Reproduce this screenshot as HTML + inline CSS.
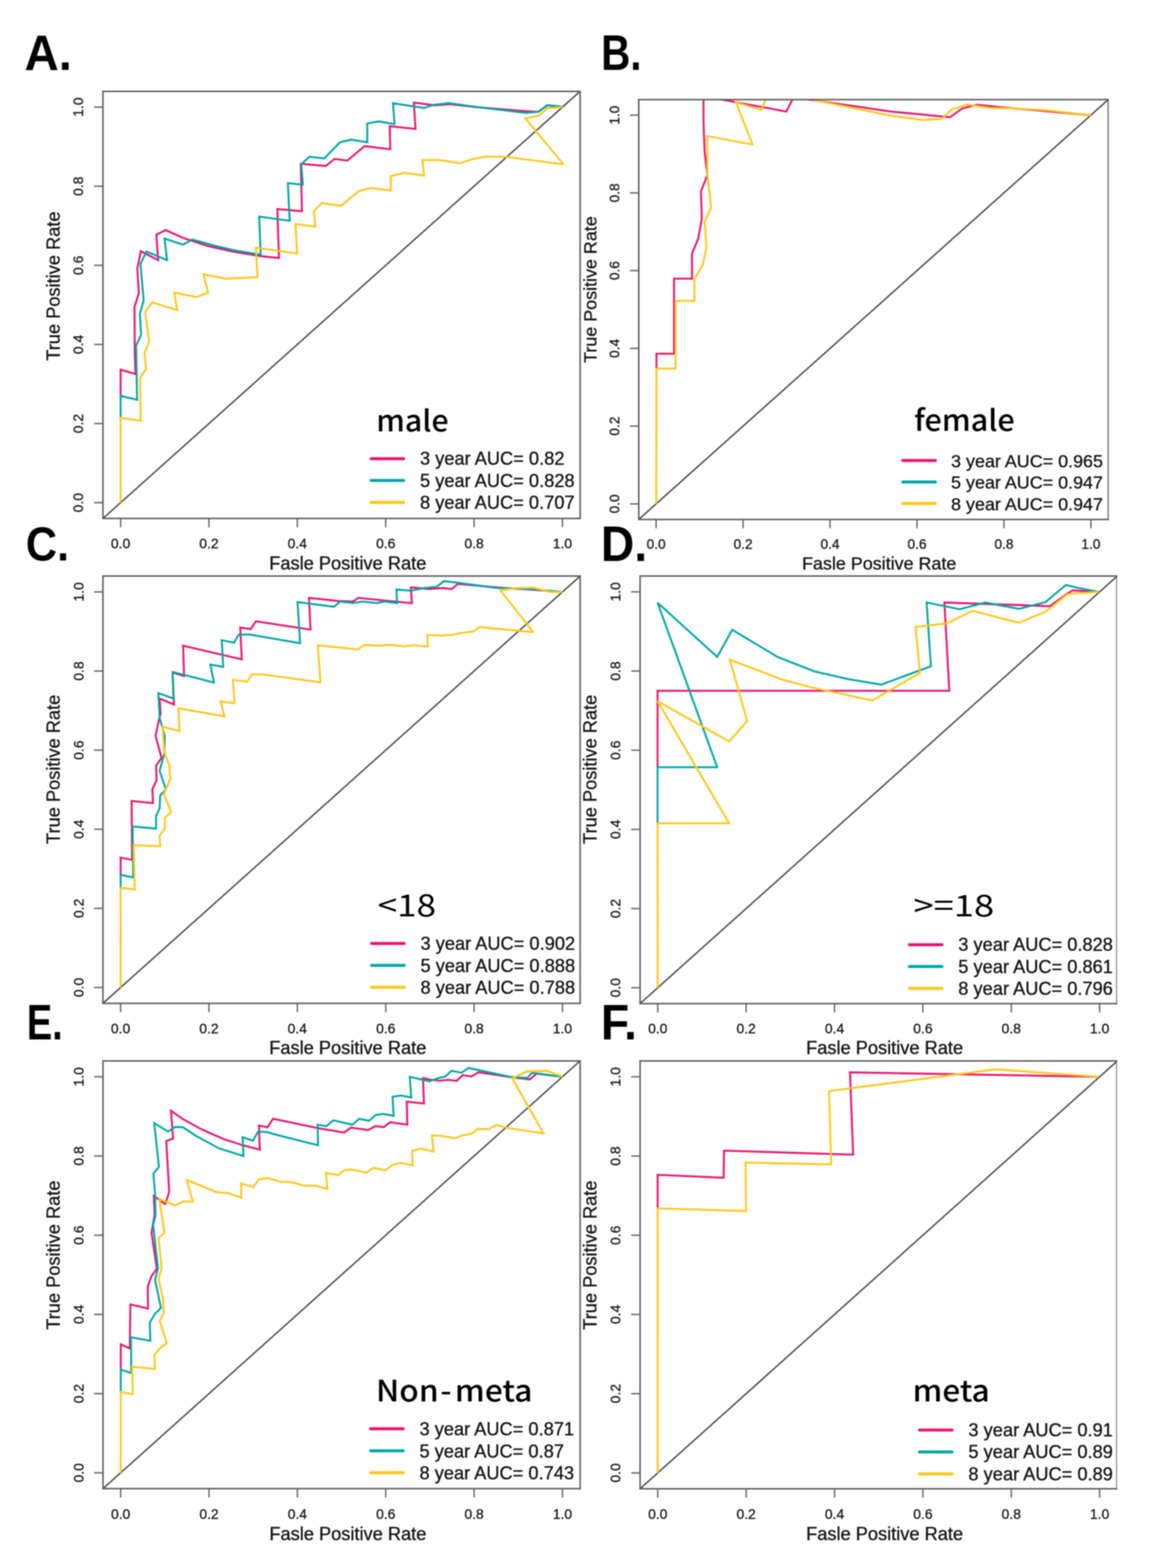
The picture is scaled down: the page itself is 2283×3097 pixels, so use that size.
<!DOCTYPE html>
<html><head><meta charset="utf-8"><title>Time-dependent ROC curves</title>
<style>
html,body{margin:0;padding:0;background:#fff;}
svg{display:block;filter:blur(0.8px);}
.tk{font-family:"Liberation Sans",Arial,sans-serif;font-size:27.5px;fill:#141414;stroke:#141414;stroke-width:0.5px;}
.lab{font-family:"Liberation Sans",Arial,sans-serif;font-size:36px;fill:#141414;stroke:#141414;stroke-width:0.6px;}
.lg{font-family:"Liberation Sans",Arial,sans-serif;font-size:36px;fill:#141414;stroke:#141414;stroke-width:0.6px;}
.let{font-family:"Liberation Sans",Arial,sans-serif;font-weight:bold;fill:#000;}
.sub{font-family:"Noto Sans CJK SC",sans-serif;fill:#000;}
</style></head>
<body>
<svg width="2283" height="3097" viewBox="0 0 2283 3097">
<rect width="2283" height="3097" fill="#fff"/>
<clipPath id="clipA"><rect x="203.3" y="180.4" width="942.4" height="843.7"/></clipPath>
<g clip-path="url(#clipA)">
<line x1="194.6" y1="1031.9" x2="1154.4" y2="172.5" stroke="#474747" stroke-width="2.8"/>
<polyline points="238.2,783.5 238.2,730.3 267.4,738.7 266.2,700.0 265.6,606.1 274.3,578.7 271.2,529.9 278.1,496.2 312.4,513.7 308.7,463.7 327.4,454.4 359.9,469.3 410.0,485.9 463.0,497.6 515.9,506.0 550.9,509.7 547.7,412.8 596.4,417.1 593.9,323.5 643.7,327.7 660.6,313.9 686.1,317.1 720.0,288.5 770.8,294.9 769.7,249.3 820.6,254.6 817.4,202.7 858.7,208.0 888.4,205.9 945.4,212.0 1036.9,219.5 1063.0,220.9 1081.0,208.0 1111.0,211.6" fill="none" stroke="#EE1470" stroke-width="3.8" stroke-linejoin="miter" stroke-miterlimit="2.5"/>
<polyline points="238.2,826.5 238.2,782.0 270.8,789.6 268.8,682.8 278.7,661.1 276.2,619.9 283.7,593.6 277.5,521.2 289.3,496.8 329.9,513.7 324.9,471.2 361.2,483.1 379.9,473.1 424.9,485.6 463.0,494.4 514.9,502.9 511.7,427.7 572.1,436.1 568.5,361.6 598.1,364.8 595.0,324.5 610.8,309.7 640.5,312.9 671.2,281.1 693.5,275.8 725.3,281.1 725.3,244.0 747.5,239.8 779.3,245.1 776.1,203.8 837.5,213.3 856.6,207.0 886.5,203.7 945.4,211.9 1036.9,222.8 1063.0,221.0 1081.0,207.8 1105.5,210.2 1111.0,211.6" fill="none" stroke="#00A7A7" stroke-width="3.8" stroke-linejoin="miter" stroke-miterlimit="2.5"/>
<polyline points="238.2,992.8 238.2,825.3 277.9,831.2 276.7,746.4 288.6,728.6 285.2,698.0 294.5,675.1 286.8,616.1 300.6,597.4 349.9,612.4 344.3,578.0 387.4,586.8 411.1,578.0 401.8,541.8 445.0,550.5 508.5,547.4 505.3,489.1 586.9,500.8 583.7,442.5 622.9,447.8 619.7,417.1 635.6,401.2 673.8,406.5 708.3,377.5 732.7,371.1 771.9,376.4 771.9,347.8 798.3,341.5 837.5,346.8 834.4,316.1 867.2,316.1 908.6,322.2 933.9,314.0 960.1,309.1 999.3,309.9 1112.9,324.6 1037.7,233.9 1064.7,228.2 1081.0,213.5 1111.0,211.6" fill="none" stroke="#FFC71A" stroke-width="3.8" stroke-linejoin="miter" stroke-miterlimit="2.5"/>
</g>
<path d="M1145.7,180.4 H203.3 V1024.0 H1145.7" fill="none" stroke="#5e5e5e" stroke-width="3" stroke-linecap="square"/>
<line x1="1145.7" y1="178.9" x2="1145.7" y2="1025.5" stroke="#5e5e5e" stroke-width="3"/>
<line x1="238.2" y1="1024.0" x2="238.2" y2="1041.5" stroke="#5e5e5e" stroke-width="2.6"/>
<line x1="203.3" y1="992.8" x2="185.8" y2="992.8" stroke="#5e5e5e" stroke-width="2.6"/>
<line x1="412.7" y1="1024.0" x2="412.7" y2="1041.5" stroke="#5e5e5e" stroke-width="2.6"/>
<line x1="203.3" y1="836.6" x2="185.8" y2="836.6" stroke="#5e5e5e" stroke-width="2.6"/>
<line x1="587.2" y1="1024.0" x2="587.2" y2="1041.5" stroke="#5e5e5e" stroke-width="2.6"/>
<line x1="203.3" y1="680.3" x2="185.8" y2="680.3" stroke="#5e5e5e" stroke-width="2.6"/>
<line x1="761.8" y1="1024.0" x2="761.8" y2="1041.5" stroke="#5e5e5e" stroke-width="2.6"/>
<line x1="203.3" y1="524.1" x2="185.8" y2="524.1" stroke="#5e5e5e" stroke-width="2.6"/>
<line x1="936.3" y1="1024.0" x2="936.3" y2="1041.5" stroke="#5e5e5e" stroke-width="2.6"/>
<line x1="203.3" y1="367.8" x2="185.8" y2="367.8" stroke="#5e5e5e" stroke-width="2.6"/>
<line x1="1110.8" y1="1024.0" x2="1110.8" y2="1041.5" stroke="#5e5e5e" stroke-width="2.6"/>
<line x1="203.3" y1="211.6" x2="185.8" y2="211.6" stroke="#5e5e5e" stroke-width="2.6"/>
<text x="238.2" y="1083.3" class="tk" style="font-size:27.50px" text-anchor="middle">0.0</text>
<text transform="translate(164.3,992.8) rotate(-90)" class="tk" style="font-size:27.50px" text-anchor="middle">0.0</text>
<text x="412.7" y="1083.3" class="tk" style="font-size:27.50px" text-anchor="middle">0.2</text>
<text transform="translate(164.3,836.6) rotate(-90)" class="tk" style="font-size:27.50px" text-anchor="middle">0.2</text>
<text x="587.2" y="1083.3" class="tk" style="font-size:27.50px" text-anchor="middle">0.4</text>
<text transform="translate(164.3,680.3) rotate(-90)" class="tk" style="font-size:27.50px" text-anchor="middle">0.4</text>
<text x="761.8" y="1083.3" class="tk" style="font-size:27.50px" text-anchor="middle">0.6</text>
<text transform="translate(164.3,524.1) rotate(-90)" class="tk" style="font-size:27.50px" text-anchor="middle">0.6</text>
<text x="936.3" y="1083.3" class="tk" style="font-size:27.50px" text-anchor="middle">0.8</text>
<text transform="translate(164.3,367.8) rotate(-90)" class="tk" style="font-size:27.50px" text-anchor="middle">0.8</text>
<text x="1110.8" y="1083.3" class="tk" style="font-size:27.50px" text-anchor="middle">1.0</text>
<text transform="translate(164.3,211.6) rotate(-90)" class="tk" style="font-size:27.50px" text-anchor="middle">1.0</text>
<text x="531.8" y="1124.6" class="lab" style="font-size:36.00px">Fasle Positive Rate</text>
<text transform="translate(118.3,565.0) rotate(-90)" class="lab" style="font-size:36.00px" text-anchor="middle">True Positive Rate</text>
<text transform="translate(48.4,138.0) scale(0.948,1)" class="let" style="font-size:98.6px">A.</text>
<text transform="translate(742.9,851.7) scale(1.044,1)" class="sub" style="font-size:57.5px;font-weight:500">male</text>
<line x1="733.0" y1="905.9" x2="797.2" y2="905.9" stroke="#EE1470" stroke-width="6" stroke-linecap="round"/>
<text x="829.5" y="918.4" class="lg" style="font-size:36.00px">3 year AUC= 0.82</text>
<line x1="733.0" y1="949.1" x2="797.2" y2="949.1" stroke="#00A7A7" stroke-width="6" stroke-linecap="round"/>
<text x="829.5" y="961.6" class="lg" style="font-size:36.00px">5 year AUC= 0.828</text>
<line x1="733.0" y1="992.3" x2="797.2" y2="992.3" stroke="#FFC71A" stroke-width="6" stroke-linecap="round"/>
<text x="829.5" y="1004.8" class="lg" style="font-size:36.00px">8 year AUC= 0.707</text>
<clipPath id="clipB"><rect x="1261.5" y="196.7" width="926.9" height="829.2"/></clipPath>
<g clip-path="url(#clipB)">
<line x1="1252.9" y1="1033.6" x2="2197.3" y2="189.0" stroke="#474747" stroke-width="2.8"/>
<polyline points="1296.5,729.2 1296.5,698.6 1331.2,698.6 1331.2,550.4 1366.7,550.4 1366.7,501.0 1378.8,471.7 1386.1,431.5 1384.3,378.4 1397.1,345.5 1391.6,299.8 1389.4,241.2 1389.4,190.0 1552.8,220.3 1566.0,195.0 1575.0,186.0 1592.8,196.0 1760.0,220.3 1876.2,231.6 1900.4,214.2 1929.5,207.0 2002.1,214.2 2074.8,220.3 2152.3,227.5 2154.3,227.4" fill="none" stroke="#EE1470" stroke-width="3.8" stroke-linejoin="miter" stroke-miterlimit="2.5"/>
<polyline points="1295.8,995.2 1296.5,727.9 1334.2,727.9 1334.2,594.3 1371.5,594.3 1371.5,550.4 1387.9,523.0 1395.3,488.2 1391.6,438.8 1404.4,409.5 1397.1,343.7 1396.6,268.7 1486.2,285.6 1453.5,202.1 1503.2,216.6 1512.9,196.0 1517.0,187.0 1560.0,187.0 1600.0,196.0 1760.0,228.7 1823.0,237.2 1859.3,234.8 1881.1,215.4 1910.1,206.5 1953.7,213.0 2002.1,214.2 2067.5,217.8 2152.3,227.5 2154.3,227.4" fill="none" stroke="#FFC71A" stroke-width="3.8" stroke-linejoin="miter" stroke-miterlimit="2.5"/>
</g>
<path d="M2188.4,196.7 H1261.5 V1025.9 H2188.4" fill="none" stroke="#5e5e5e" stroke-width="3" stroke-linecap="square"/>
<line x1="2188.4" y1="195.2" x2="2188.4" y2="1027.4" stroke="#5e5e5e" stroke-width="2.2"/>
<line x1="1295.8" y1="1025.9" x2="1295.8" y2="1043.4" stroke="#5e5e5e" stroke-width="2.6"/>
<line x1="1261.5" y1="995.2" x2="1244.0" y2="995.2" stroke="#5e5e5e" stroke-width="2.6"/>
<line x1="1467.5" y1="1025.9" x2="1467.5" y2="1043.4" stroke="#5e5e5e" stroke-width="2.6"/>
<line x1="1261.5" y1="841.6" x2="1244.0" y2="841.6" stroke="#5e5e5e" stroke-width="2.6"/>
<line x1="1639.2" y1="1025.9" x2="1639.2" y2="1043.4" stroke="#5e5e5e" stroke-width="2.6"/>
<line x1="1261.5" y1="688.1" x2="1244.0" y2="688.1" stroke="#5e5e5e" stroke-width="2.6"/>
<line x1="1811.0" y1="1025.9" x2="1811.0" y2="1043.4" stroke="#5e5e5e" stroke-width="2.6"/>
<line x1="1261.5" y1="534.5" x2="1244.0" y2="534.5" stroke="#5e5e5e" stroke-width="2.6"/>
<line x1="1982.7" y1="1025.9" x2="1982.7" y2="1043.4" stroke="#5e5e5e" stroke-width="2.6"/>
<line x1="1261.5" y1="381.0" x2="1244.0" y2="381.0" stroke="#5e5e5e" stroke-width="2.6"/>
<line x1="2154.4" y1="1025.9" x2="2154.4" y2="1043.4" stroke="#5e5e5e" stroke-width="2.6"/>
<line x1="1261.5" y1="227.4" x2="1244.0" y2="227.4" stroke="#5e5e5e" stroke-width="2.6"/>
<text x="1295.8" y="1084.0" class="tk" style="font-size:27.03px" text-anchor="middle">0.0</text>
<text transform="translate(1223.3,995.2) rotate(-90)" class="tk" style="font-size:27.03px" text-anchor="middle">0.0</text>
<text x="1467.5" y="1084.0" class="tk" style="font-size:27.03px" text-anchor="middle">0.2</text>
<text transform="translate(1223.3,841.6) rotate(-90)" class="tk" style="font-size:27.03px" text-anchor="middle">0.2</text>
<text x="1639.2" y="1084.0" class="tk" style="font-size:27.03px" text-anchor="middle">0.4</text>
<text transform="translate(1223.3,688.1) rotate(-90)" class="tk" style="font-size:27.03px" text-anchor="middle">0.4</text>
<text x="1811.0" y="1084.0" class="tk" style="font-size:27.03px" text-anchor="middle">0.6</text>
<text transform="translate(1223.3,534.5) rotate(-90)" class="tk" style="font-size:27.03px" text-anchor="middle">0.6</text>
<text x="1982.7" y="1084.0" class="tk" style="font-size:27.03px" text-anchor="middle">0.8</text>
<text transform="translate(1223.3,381.0) rotate(-90)" class="tk" style="font-size:27.03px" text-anchor="middle">0.8</text>
<text x="2154.4" y="1084.0" class="tk" style="font-size:27.03px" text-anchor="middle">1.0</text>
<text transform="translate(1223.3,227.4) rotate(-90)" class="tk" style="font-size:27.03px" text-anchor="middle">1.0</text>
<text x="1584.0" y="1124.5" class="lab" style="font-size:35.39px">Fasle Positive Rate</text>
<text transform="translate(1178.0,572.0) rotate(-90)" class="lab" style="font-size:35.39px" text-anchor="middle">True Positive Rate</text>
<text transform="translate(1187.3,137.7) scale(0.816,1)" class="let" style="font-size:97.7px">B.</text>
<text transform="translate(1805.5,851.0) scale(1.052,1)" class="sub" style="font-size:57.5px;font-weight:500">female</text>
<line x1="1783.0" y1="909.5" x2="1847.2" y2="909.5" stroke="#EE1470" stroke-width="6" stroke-linecap="round"/>
<text x="1878.3" y="922.6" class="lg" style="font-size:35.39px">3 year AUC= 0.965</text>
<line x1="1783.0" y1="952.0" x2="1847.2" y2="952.0" stroke="#00A7A7" stroke-width="6" stroke-linecap="round"/>
<text x="1878.3" y="965.1" class="lg" style="font-size:35.39px">5 year AUC= 0.947</text>
<line x1="1783.0" y1="994.5" x2="1847.2" y2="994.5" stroke="#FFC71A" stroke-width="6" stroke-linecap="round"/>
<text x="1878.3" y="1007.6" class="lg" style="font-size:35.39px">8 year AUC= 0.947</text>
<clipPath id="clipC"><rect x="203.3" y="1137.8" width="942.4" height="843.8"/></clipPath>
<g clip-path="url(#clipC)">
<line x1="194.6" y1="1989.5" x2="1154.4" y2="1130.0" stroke="#474747" stroke-width="2.8"/>
<polyline points="238.3,1729.2 238.3,1694.0 260.9,1698.2 259.9,1582.1 302.0,1586.2 301.0,1558.5 309.2,1541.1 308.2,1512.3 319.0,1497.0 307.2,1453.4 313.6,1422.5 317.2,1409.8 315.4,1379.8 343.6,1391.6 340.8,1328.1 363.5,1335.3 361.7,1275.4 477.5,1302.3 474.4,1239.5 495.0,1242.6 505.3,1227.2 613.3,1243.6 610.2,1180.9 667.9,1187.0 696.7,1188.1 708.0,1180.9 780.0,1188.2 813.6,1191.5 811.4,1160.2 847.2,1163.5 874.1,1161.3 892.0,1163.5 904.3,1153.4 981.6,1160.2 1048.8,1164.6 1111.0,1169.1" fill="none" stroke="#EE1470" stroke-width="3.8" stroke-linejoin="miter" stroke-miterlimit="2.5"/>
<polyline points="238.3,1754.9 238.3,1727.9 263.0,1733.1 262.0,1632.4 308.2,1636.6 308.2,1611.9 315.3,1596.5 316.4,1570.8 327.7,1559.5 315.3,1522.6 316.3,1518.8 324.5,1487.9 325.4,1453.4 315.4,1418.9 312.7,1368.9 342.6,1379.8 340.8,1327.2 422.5,1348.1 415.3,1312.6 440.7,1317.2 438.0,1264.5 462.1,1269.4 471.3,1253.9 490.9,1252.9 592.7,1270.4 587.6,1189.1 659.6,1198.4 672.0,1188.1 696.7,1191.2 715.2,1188.1 744.0,1191.2 760.5,1188.1 784.1,1191.2 783.1,1164.4 811.4,1166.9 838.2,1161.3 862.9,1159.0 876.3,1147.8 905.4,1151.2 981.6,1161.3 1048.8,1163.5 1111.0,1169.1" fill="none" stroke="#00A7A7" stroke-width="3.8" stroke-linejoin="miter" stroke-miterlimit="2.5"/>
<polyline points="238.2,1950.4 238.3,1753.6 266.1,1756.7 264.0,1669.4 316.4,1671.5 315.3,1649.9 325.6,1636.6 325.6,1615.0 337.9,1603.7 323.6,1567.8 336.9,1537.0 335.4,1530.0 334.5,1511.5 324.5,1486.1 320.9,1435.2 354.5,1444.3 352.6,1398.9 443.4,1415.2 435.3,1385.3 463.4,1388.9 459.8,1342.6 487.8,1346.5 497.0,1332.1 519.7,1332.1 632.9,1347.6 627.7,1274.5 707.0,1282.7 720.3,1273.5 748.1,1275.5 768.7,1273.5 797.9,1276.6 818.1,1274.4 845.0,1277.1 843.8,1254.2 869.6,1255.3 892.0,1254.2 914.4,1249.7 934.5,1247.5 946.9,1238.5 1053.2,1248.6 988.3,1165.8 1021.9,1161.3 1053.2,1160.6 1086.8,1169.1 1111.0,1169.1" fill="none" stroke="#FFC71A" stroke-width="3.8" stroke-linejoin="miter" stroke-miterlimit="2.5"/>
</g>
<path d="M1145.7,1137.8 H203.3 V1981.7 H1145.7" fill="none" stroke="#5e5e5e" stroke-width="3" stroke-linecap="square"/>
<line x1="1145.7" y1="1136.3" x2="1145.7" y2="1983.2" stroke="#5e5e5e" stroke-width="3"/>
<line x1="238.2" y1="1981.7" x2="238.2" y2="1999.2" stroke="#5e5e5e" stroke-width="2.6"/>
<line x1="203.3" y1="1950.4" x2="185.8" y2="1950.4" stroke="#5e5e5e" stroke-width="2.6"/>
<line x1="412.7" y1="1981.7" x2="412.7" y2="1999.2" stroke="#5e5e5e" stroke-width="2.6"/>
<line x1="203.3" y1="1794.1" x2="185.8" y2="1794.1" stroke="#5e5e5e" stroke-width="2.6"/>
<line x1="587.2" y1="1981.7" x2="587.2" y2="1999.2" stroke="#5e5e5e" stroke-width="2.6"/>
<line x1="203.3" y1="1637.9" x2="185.8" y2="1637.9" stroke="#5e5e5e" stroke-width="2.6"/>
<line x1="761.8" y1="1981.7" x2="761.8" y2="1999.2" stroke="#5e5e5e" stroke-width="2.6"/>
<line x1="203.3" y1="1481.6" x2="185.8" y2="1481.6" stroke="#5e5e5e" stroke-width="2.6"/>
<line x1="936.3" y1="1981.7" x2="936.3" y2="1999.2" stroke="#5e5e5e" stroke-width="2.6"/>
<line x1="203.3" y1="1325.4" x2="185.8" y2="1325.4" stroke="#5e5e5e" stroke-width="2.6"/>
<line x1="1110.8" y1="1981.7" x2="1110.8" y2="1999.2" stroke="#5e5e5e" stroke-width="2.6"/>
<line x1="203.3" y1="1169.1" x2="185.8" y2="1169.1" stroke="#5e5e5e" stroke-width="2.6"/>
<text x="238.2" y="2041.0" class="tk" style="font-size:27.50px" text-anchor="middle">0.0</text>
<text transform="translate(165.3,1950.4) rotate(-90)" class="tk" style="font-size:27.50px" text-anchor="middle">0.0</text>
<text x="412.7" y="2041.0" class="tk" style="font-size:27.50px" text-anchor="middle">0.2</text>
<text transform="translate(165.3,1794.1) rotate(-90)" class="tk" style="font-size:27.50px" text-anchor="middle">0.2</text>
<text x="587.2" y="2041.0" class="tk" style="font-size:27.50px" text-anchor="middle">0.4</text>
<text transform="translate(165.3,1637.9) rotate(-90)" class="tk" style="font-size:27.50px" text-anchor="middle">0.4</text>
<text x="761.8" y="2041.0" class="tk" style="font-size:27.50px" text-anchor="middle">0.6</text>
<text transform="translate(165.3,1481.6) rotate(-90)" class="tk" style="font-size:27.50px" text-anchor="middle">0.6</text>
<text x="936.3" y="2041.0" class="tk" style="font-size:27.50px" text-anchor="middle">0.8</text>
<text transform="translate(165.3,1325.4) rotate(-90)" class="tk" style="font-size:27.50px" text-anchor="middle">0.8</text>
<text x="1110.8" y="2041.0" class="tk" style="font-size:27.50px" text-anchor="middle">1.0</text>
<text transform="translate(165.3,1169.1) rotate(-90)" class="tk" style="font-size:27.50px" text-anchor="middle">1.0</text>
<text x="531.8" y="2082.2" class="lab" style="font-size:36.00px">Fasle Positive Rate</text>
<text transform="translate(118.3,1519.5) rotate(-90)" class="lab" style="font-size:36.00px" text-anchor="middle">True Positive Rate</text>
<text transform="translate(51.1,1107.0) scale(0.902,1)" class="let" style="font-size:94.7px">C.</text>
<text transform="translate(745.9,1809.6) scale(1.159,1)" class="sub" style="font-size:59.7px;font-weight:400">&lt;18</text>
<line x1="734.0" y1="1863.4" x2="798.2" y2="1863.4" stroke="#EE1470" stroke-width="6" stroke-linecap="round"/>
<text x="830.5" y="1876.4" class="lg" style="font-size:36.00px">3 year AUC= 0.902</text>
<line x1="734.0" y1="1906.7" x2="798.2" y2="1906.7" stroke="#00A7A7" stroke-width="6" stroke-linecap="round"/>
<text x="830.5" y="1919.7" class="lg" style="font-size:36.00px">5 year AUC= 0.888</text>
<line x1="734.0" y1="1950.0" x2="798.2" y2="1950.0" stroke="#FFC71A" stroke-width="6" stroke-linecap="round"/>
<text x="830.5" y="1963.0" class="lg" style="font-size:36.00px">8 year AUC= 0.788</text>
<clipPath id="clipD"><rect x="1264.1" y="1137.7" width="941.0" height="844.5"/></clipPath>
<g clip-path="url(#clipD)">
<line x1="1255.4" y1="1990.0" x2="2215.3" y2="1129.9" stroke="#474747" stroke-width="2.8"/>
<polyline points="1298.6,1516.7 1298.6,1364.3 1874.8,1364.3 1865.1,1190.0 1980.0,1194.0 2073.2,1197.3 2107.8,1172.6 2118.5,1166.0 2170.0,1169.0" fill="none" stroke="#EE1470" stroke-width="3.8" stroke-linejoin="miter" stroke-miterlimit="2.5"/>
<polyline points="1298.6,1627.4 1298.6,1515.4 1416.4,1515.4 1298.6,1190.4 1416.4,1297.5 1446.1,1243.9 1535.4,1297.5 1608.6,1326.1 1675.1,1341.3 1740.4,1352.2 1838.5,1315.9 1830.0,1190.0 1895.4,1203.3 1946.2,1190.0 1980.0,1196.6 2012.6,1202.6 2064.6,1189.3 2105.2,1155.3 2123.8,1160.0 2170.0,1169.0" fill="none" stroke="#00A7A7" stroke-width="3.8" stroke-linejoin="miter" stroke-miterlimit="2.5"/>
<polyline points="1298.9,1950.5 1298.6,1626.1 1440.0,1626.1 1298.6,1385.0 1440.0,1464.3 1475.7,1424.3 1441.4,1302.9 1544.3,1342.1 1600.0,1357.0 1722.3,1383.7 1816.7,1329.2 1808.2,1238.4 1870.0,1231.1 1920.8,1206.2 1980.0,1221.9 2012.6,1229.9 2065.2,1207.9 2107.8,1174.0 2117.2,1172.6 2170.0,1169.0" fill="none" stroke="#FFC71A" stroke-width="3.8" stroke-linejoin="miter" stroke-miterlimit="2.5"/>
</g>
<path d="M2205.1,1137.7 H1264.1 V1982.2 H2205.1" fill="none" stroke="#5e5e5e" stroke-width="3" stroke-linecap="square"/>
<line x1="2205.1" y1="1136.2" x2="2205.1" y2="1983.7" stroke="#5e5e5e" stroke-width="1.6"/>
<line x1="1299.0" y1="1982.2" x2="1299.0" y2="1999.7" stroke="#5e5e5e" stroke-width="2.6"/>
<line x1="1264.1" y1="1950.9" x2="1246.6" y2="1950.9" stroke="#5e5e5e" stroke-width="2.6"/>
<line x1="1473.5" y1="1982.2" x2="1473.5" y2="1999.7" stroke="#5e5e5e" stroke-width="2.6"/>
<line x1="1264.1" y1="1794.5" x2="1246.6" y2="1794.5" stroke="#5e5e5e" stroke-width="2.6"/>
<line x1="1648.1" y1="1982.2" x2="1648.1" y2="1999.7" stroke="#5e5e5e" stroke-width="2.6"/>
<line x1="1264.1" y1="1638.1" x2="1246.6" y2="1638.1" stroke="#5e5e5e" stroke-width="2.6"/>
<line x1="1822.6" y1="1982.2" x2="1822.6" y2="1999.7" stroke="#5e5e5e" stroke-width="2.6"/>
<line x1="1264.1" y1="1481.8" x2="1246.6" y2="1481.8" stroke="#5e5e5e" stroke-width="2.6"/>
<line x1="1997.2" y1="1982.2" x2="1997.2" y2="1999.7" stroke="#5e5e5e" stroke-width="2.6"/>
<line x1="1264.1" y1="1325.4" x2="1246.6" y2="1325.4" stroke="#5e5e5e" stroke-width="2.6"/>
<line x1="2171.7" y1="1982.2" x2="2171.7" y2="1999.7" stroke="#5e5e5e" stroke-width="2.6"/>
<line x1="1264.1" y1="1169.0" x2="1246.6" y2="1169.0" stroke="#5e5e5e" stroke-width="2.6"/>
<text x="1299.0" y="2041.2" class="tk" style="font-size:27.50px" text-anchor="middle">0.0</text>
<text transform="translate(1225.3,1950.9) rotate(-90)" class="tk" style="font-size:27.50px" text-anchor="middle">0.0</text>
<text x="1473.5" y="2041.2" class="tk" style="font-size:27.50px" text-anchor="middle">0.2</text>
<text transform="translate(1225.3,1794.5) rotate(-90)" class="tk" style="font-size:27.50px" text-anchor="middle">0.2</text>
<text x="1648.1" y="2041.2" class="tk" style="font-size:27.50px" text-anchor="middle">0.4</text>
<text transform="translate(1225.3,1638.1) rotate(-90)" class="tk" style="font-size:27.50px" text-anchor="middle">0.4</text>
<text x="1822.6" y="2041.2" class="tk" style="font-size:27.50px" text-anchor="middle">0.6</text>
<text transform="translate(1225.3,1481.8) rotate(-90)" class="tk" style="font-size:27.50px" text-anchor="middle">0.6</text>
<text x="1997.2" y="2041.2" class="tk" style="font-size:27.50px" text-anchor="middle">0.8</text>
<text transform="translate(1225.3,1325.4) rotate(-90)" class="tk" style="font-size:27.50px" text-anchor="middle">0.8</text>
<text x="2171.7" y="2041.2" class="tk" style="font-size:27.50px" text-anchor="middle">1.0</text>
<text transform="translate(1225.3,1169.0) rotate(-90)" class="tk" style="font-size:27.50px" text-anchor="middle">1.0</text>
<text x="1592.0" y="2082.1" class="lab" style="font-size:36.00px">Fasle Positive Rate</text>
<text transform="translate(1178.3,1519.5) rotate(-90)" class="lab" style="font-size:36.00px" text-anchor="middle">True Positive Rate</text>
<text transform="translate(1186.8,1107.7) scale(0.934,1)" class="let" style="font-size:97.7px">D.</text>
<text transform="translate(1803.9,1809.6) scale(1.218,1)" class="sub" style="font-size:59.0px;font-weight:400">&gt;=18</text>
<line x1="1796.0" y1="1865.9" x2="1860.2" y2="1865.9" stroke="#EE1470" stroke-width="6" stroke-linecap="round"/>
<text x="1892.6" y="1878.4" class="lg" style="font-size:36.00px">3 year AUC= 0.828</text>
<line x1="1796.0" y1="1909.1" x2="1860.2" y2="1909.1" stroke="#00A7A7" stroke-width="6" stroke-linecap="round"/>
<text x="1892.6" y="1921.6" class="lg" style="font-size:36.00px">5 year AUC= 0.861</text>
<line x1="1796.0" y1="1952.3" x2="1860.2" y2="1952.3" stroke="#FFC71A" stroke-width="6" stroke-linecap="round"/>
<text x="1892.6" y="1964.8" class="lg" style="font-size:36.00px">8 year AUC= 0.796</text>
<clipPath id="clipE"><rect x="203.4" y="2095.5" width="942.3" height="844.8"/></clipPath>
<g clip-path="url(#clipE)">
<line x1="194.7" y1="2948.1" x2="1154.4" y2="2087.7" stroke="#474747" stroke-width="2.8"/>
<polyline points="238.5,2706.4 238.5,2655.2 256.3,2663.3 257.5,2576.3 292.3,2584.5 291.8,2541.5 299.2,2520.6 309.7,2505.6 299.2,2434.8 305.4,2398.6 303.7,2362.2 326.6,2378.3 334.2,2353.7 328.3,2253.7 341.9,2248.6 337.6,2193.6 361.4,2210.5 398.6,2230.8 441.0,2249.5 480.0,2262.2 513.0,2270.7 511.4,2223.2 528.3,2226.6 539.3,2209.7 627.2,2228.2 679.5,2236.9 693.0,2227.2 726.9,2232.0 741.5,2224.3 757.9,2226.2 770.5,2216.5 804.4,2221.4 803.4,2175.9 837.3,2179.7 835.4,2129.4 849.9,2132.3 868.1,2134.7 885.0,2132.8 901.9,2134.7 914.1,2123.5 931.0,2126.3 945.1,2117.8 1012.6,2128.1 1046.4,2131.9 1059.6,2120.6 1111.0,2126.8" fill="none" stroke="#EE1470" stroke-width="3.8" stroke-linejoin="miter" stroke-miterlimit="2.5"/>
<polyline points="238.5,2750.5 238.5,2705.1 259.3,2712.1 258.6,2641.3 296.9,2648.3 295.8,2612.3 306.2,2594.9 317.8,2583.3 306.2,2527.6 312.0,2505.6 302.7,2422.0 302.0,2420.7 307.1,2400.3 306.3,2359.7 302.9,2318.1 313.9,2304.6 304.6,2218.1 331.7,2235.1 346.1,2225.8 361.4,2226.6 388.5,2244.4 432.5,2268.1 480.8,2283.4 479.2,2246.1 499.5,2252.9 509.7,2235.1 527.5,2235.9 540.0,2239.8 628.1,2262.1 627.2,2221.4 644.6,2224.3 658.2,2212.7 695.9,2221.4 709.5,2209.8 728.9,2213.6 742.4,2202.0 757.0,2200.1 777.3,2203.9 775.3,2166.2 791.8,2163.9 812.2,2167.7 809.3,2127.0 847.5,2135.7 866.3,2129.1 879.4,2126.3 891.6,2115.0 911.3,2118.8 925.4,2109.4 1008.9,2127.2 1041.7,2129.1 1050.2,2118.8 1111.0,2126.8" fill="none" stroke="#00A7A7" stroke-width="3.8" stroke-linejoin="miter" stroke-miterlimit="2.5"/>
<polyline points="238.3,2909.0 238.5,2749.2 262.1,2753.8 261.0,2699.3 306.2,2703.9 305.0,2676.1 316.6,2662.2 329.4,2652.9 315.5,2608.8 323.6,2592.6 321.3,2562.4 313.2,2526.5 319.0,2505.6 313.2,2445.2 324.8,2434.8 314.7,2368.1 345.3,2380.8 361.4,2373.2 380.8,2373.2 369.0,2330.8 427.5,2354.6 449.5,2356.3 476.6,2365.6 475.8,2337.6 500.3,2344.4 511.4,2329.2 529.2,2326.6 555.5,2334.7 574.9,2334.7 602.0,2342.4 621.4,2341.5 646.5,2348.3 643.6,2316.3 666.9,2321.1 681.4,2310.5 698.8,2310.5 724.0,2316.3 737.6,2306.6 760.8,2311.5 775.3,2300.8 791.8,2296.9 815.1,2301.8 814.1,2272.7 832.5,2268.8 856.0,2274.5 853.1,2242.6 873.8,2243.6 897.2,2248.2 913.2,2242.6 932.0,2238.9 944.1,2229.5 964.8,2230.4 979.8,2222.0 1005.1,2228.5 1073.6,2238.9 1011.7,2130.0 1040.8,2116.0 1080.2,2115.0 1111.0,2126.8" fill="none" stroke="#FFC71A" stroke-width="3.8" stroke-linejoin="miter" stroke-miterlimit="2.5"/>
</g>
<path d="M1145.7,2095.5 H203.4 V2940.3 H1145.7" fill="none" stroke="#5e5e5e" stroke-width="3" stroke-linecap="square"/>
<line x1="1145.7" y1="2094.0" x2="1145.7" y2="2941.8" stroke="#5e5e5e" stroke-width="3"/>
<line x1="238.3" y1="2940.3" x2="238.3" y2="2957.8" stroke="#5e5e5e" stroke-width="2.6"/>
<line x1="203.4" y1="2909.0" x2="185.9" y2="2909.0" stroke="#5e5e5e" stroke-width="2.6"/>
<line x1="412.8" y1="2940.3" x2="412.8" y2="2957.8" stroke="#5e5e5e" stroke-width="2.6"/>
<line x1="203.4" y1="2752.6" x2="185.9" y2="2752.6" stroke="#5e5e5e" stroke-width="2.6"/>
<line x1="587.3" y1="2940.3" x2="587.3" y2="2957.8" stroke="#5e5e5e" stroke-width="2.6"/>
<line x1="203.4" y1="2596.1" x2="185.9" y2="2596.1" stroke="#5e5e5e" stroke-width="2.6"/>
<line x1="761.8" y1="2940.3" x2="761.8" y2="2957.8" stroke="#5e5e5e" stroke-width="2.6"/>
<line x1="203.4" y1="2439.7" x2="185.9" y2="2439.7" stroke="#5e5e5e" stroke-width="2.6"/>
<line x1="936.3" y1="2940.3" x2="936.3" y2="2957.8" stroke="#5e5e5e" stroke-width="2.6"/>
<line x1="203.4" y1="2283.2" x2="185.9" y2="2283.2" stroke="#5e5e5e" stroke-width="2.6"/>
<line x1="1110.8" y1="2940.3" x2="1110.8" y2="2957.8" stroke="#5e5e5e" stroke-width="2.6"/>
<line x1="203.4" y1="2126.8" x2="185.9" y2="2126.8" stroke="#5e5e5e" stroke-width="2.6"/>
<text x="238.3" y="3000.0" class="tk" style="font-size:27.50px" text-anchor="middle">0.0</text>
<text transform="translate(165.3,2909.0) rotate(-90)" class="tk" style="font-size:27.50px" text-anchor="middle">0.0</text>
<text x="412.8" y="3000.0" class="tk" style="font-size:27.50px" text-anchor="middle">0.2</text>
<text transform="translate(165.3,2752.6) rotate(-90)" class="tk" style="font-size:27.50px" text-anchor="middle">0.2</text>
<text x="587.3" y="3000.0" class="tk" style="font-size:27.50px" text-anchor="middle">0.4</text>
<text transform="translate(165.3,2596.1) rotate(-90)" class="tk" style="font-size:27.50px" text-anchor="middle">0.4</text>
<text x="761.8" y="3000.0" class="tk" style="font-size:27.50px" text-anchor="middle">0.6</text>
<text transform="translate(165.3,2439.7) rotate(-90)" class="tk" style="font-size:27.50px" text-anchor="middle">0.6</text>
<text x="936.3" y="3000.0" class="tk" style="font-size:27.50px" text-anchor="middle">0.8</text>
<text transform="translate(165.3,2283.2) rotate(-90)" class="tk" style="font-size:27.50px" text-anchor="middle">0.8</text>
<text x="1110.8" y="3000.0" class="tk" style="font-size:27.50px" text-anchor="middle">1.0</text>
<text transform="translate(165.3,2126.8) rotate(-90)" class="tk" style="font-size:27.50px" text-anchor="middle">1.0</text>
<text x="532.0" y="3042.0" class="lab" style="font-size:36.00px">Fasle Positive Rate</text>
<text transform="translate(118.3,2479.0) rotate(-90)" class="lab" style="font-size:36.00px" text-anchor="middle">True Positive Rate</text>
<text transform="translate(53.0,2052.6) scale(0.769,1)" class="let" style="font-size:97.7px">E.</text>
<text transform="translate(742.6,2768.0) scale(1.081,1)" class="sub" style="font-size:58.0px;font-weight:500">Non<tspan dx="3">-</tspan><tspan dx="6">meta</tspan></text>
<line x1="732.0" y1="2822.0" x2="796.2" y2="2822.0" stroke="#EE1470" stroke-width="6" stroke-linecap="round"/>
<text x="828.5" y="2835.1" class="lg" style="font-size:36.00px">3 year AUC= 0.871</text>
<line x1="732.0" y1="2865.4" x2="796.2" y2="2865.4" stroke="#00A7A7" stroke-width="6" stroke-linecap="round"/>
<text x="828.5" y="2878.5" class="lg" style="font-size:36.00px">5 year AUC= 0.87</text>
<line x1="732.0" y1="2908.8" x2="796.2" y2="2908.8" stroke="#FFC71A" stroke-width="6" stroke-linecap="round"/>
<text x="828.5" y="2921.9" class="lg" style="font-size:36.00px">8 year AUC= 0.743</text>
<clipPath id="clipF"><rect x="1264.1" y="2095.5" width="941.0" height="845.0"/></clipPath>
<g clip-path="url(#clipF)">
<line x1="1255.4" y1="2948.3" x2="2215.3" y2="2087.7" stroke="#474747" stroke-width="2.8"/>
<polyline points="1298.8,2387.9 1298.8,2320.4 1429.0,2326.2 1430.0,2272.7 1684.9,2280.6 1678.6,2118.0 2170.0,2126.8" fill="none" stroke="#EE1470" stroke-width="3.8" stroke-linejoin="miter" stroke-miterlimit="2.5"/>
<polyline points="1298.9,2909.0 1298.8,2386.6 1473.4,2392.0 1472.3,2296.2 1641.5,2299.8 1637.2,2155.2 1965.7,2112.0 2170.0,2126.8" fill="none" stroke="#FFC71A" stroke-width="3.8" stroke-linejoin="miter" stroke-miterlimit="2.5"/>
</g>
<path d="M2205.1,2095.5 H1264.1 V2940.5 H2205.1" fill="none" stroke="#5e5e5e" stroke-width="3" stroke-linecap="square"/>
<line x1="2205.1" y1="2094.0" x2="2205.1" y2="2942.0" stroke="#5e5e5e" stroke-width="1.6"/>
<line x1="1299.0" y1="2940.5" x2="1299.0" y2="2958.0" stroke="#5e5e5e" stroke-width="2.6"/>
<line x1="1264.1" y1="2909.2" x2="1246.6" y2="2909.2" stroke="#5e5e5e" stroke-width="2.6"/>
<line x1="1473.5" y1="2940.5" x2="1473.5" y2="2958.0" stroke="#5e5e5e" stroke-width="2.6"/>
<line x1="1264.1" y1="2752.7" x2="1246.6" y2="2752.7" stroke="#5e5e5e" stroke-width="2.6"/>
<line x1="1648.1" y1="2940.5" x2="1648.1" y2="2958.0" stroke="#5e5e5e" stroke-width="2.6"/>
<line x1="1264.1" y1="2596.2" x2="1246.6" y2="2596.2" stroke="#5e5e5e" stroke-width="2.6"/>
<line x1="1822.6" y1="2940.5" x2="1822.6" y2="2958.0" stroke="#5e5e5e" stroke-width="2.6"/>
<line x1="1264.1" y1="2439.8" x2="1246.6" y2="2439.8" stroke="#5e5e5e" stroke-width="2.6"/>
<line x1="1997.2" y1="2940.5" x2="1997.2" y2="2958.0" stroke="#5e5e5e" stroke-width="2.6"/>
<line x1="1264.1" y1="2283.3" x2="1246.6" y2="2283.3" stroke="#5e5e5e" stroke-width="2.6"/>
<line x1="2171.7" y1="2940.5" x2="2171.7" y2="2958.0" stroke="#5e5e5e" stroke-width="2.6"/>
<line x1="1264.1" y1="2126.8" x2="1246.6" y2="2126.8" stroke="#5e5e5e" stroke-width="2.6"/>
<text x="1299.0" y="3000.0" class="tk" style="font-size:27.50px" text-anchor="middle">0.0</text>
<text transform="translate(1225.3,2909.2) rotate(-90)" class="tk" style="font-size:27.50px" text-anchor="middle">0.0</text>
<text x="1473.5" y="3000.0" class="tk" style="font-size:27.50px" text-anchor="middle">0.2</text>
<text transform="translate(1225.3,2752.7) rotate(-90)" class="tk" style="font-size:27.50px" text-anchor="middle">0.2</text>
<text x="1648.1" y="3000.0" class="tk" style="font-size:27.50px" text-anchor="middle">0.4</text>
<text transform="translate(1225.3,2596.2) rotate(-90)" class="tk" style="font-size:27.50px" text-anchor="middle">0.4</text>
<text x="1822.6" y="3000.0" class="tk" style="font-size:27.50px" text-anchor="middle">0.6</text>
<text transform="translate(1225.3,2439.8) rotate(-90)" class="tk" style="font-size:27.50px" text-anchor="middle">0.6</text>
<text x="1997.2" y="3000.0" class="tk" style="font-size:27.50px" text-anchor="middle">0.8</text>
<text transform="translate(1225.3,2283.3) rotate(-90)" class="tk" style="font-size:27.50px" text-anchor="middle">0.8</text>
<text x="2171.7" y="3000.0" class="tk" style="font-size:27.50px" text-anchor="middle">1.0</text>
<text transform="translate(1225.3,2126.8) rotate(-90)" class="tk" style="font-size:27.50px" text-anchor="middle">1.0</text>
<text x="1592.0" y="3042.0" class="lab" style="font-size:36.00px">Fasle Positive Rate</text>
<text transform="translate(1178.3,2479.0) rotate(-90)" class="lab" style="font-size:36.00px" text-anchor="middle">True Positive Rate</text>
<text transform="translate(1186.8,2053.0) scale(0.937,1)" class="let" style="font-size:97.5px">F.</text>
<text transform="translate(1802.3,2767.7) scale(1.084,1)" class="sub" style="font-size:57.5px;font-weight:500">meta</text>
<line x1="1816.0" y1="2824.5" x2="1880.2" y2="2824.5" stroke="#EE1470" stroke-width="6" stroke-linecap="round"/>
<text x="1912.6" y="2837.0" class="lg" style="font-size:36.00px">3 year AUC= 0.91</text>
<line x1="1816.0" y1="2867.8" x2="1880.2" y2="2867.8" stroke="#00A7A7" stroke-width="6" stroke-linecap="round"/>
<text x="1912.6" y="2880.3" class="lg" style="font-size:36.00px">5 year AUC= 0.89</text>
<line x1="1816.0" y1="2911.1" x2="1880.2" y2="2911.1" stroke="#FFC71A" stroke-width="6" stroke-linecap="round"/>
<text x="1912.6" y="2923.6" class="lg" style="font-size:36.00px">8 year AUC= 0.89</text>
</svg>
</body></html>
